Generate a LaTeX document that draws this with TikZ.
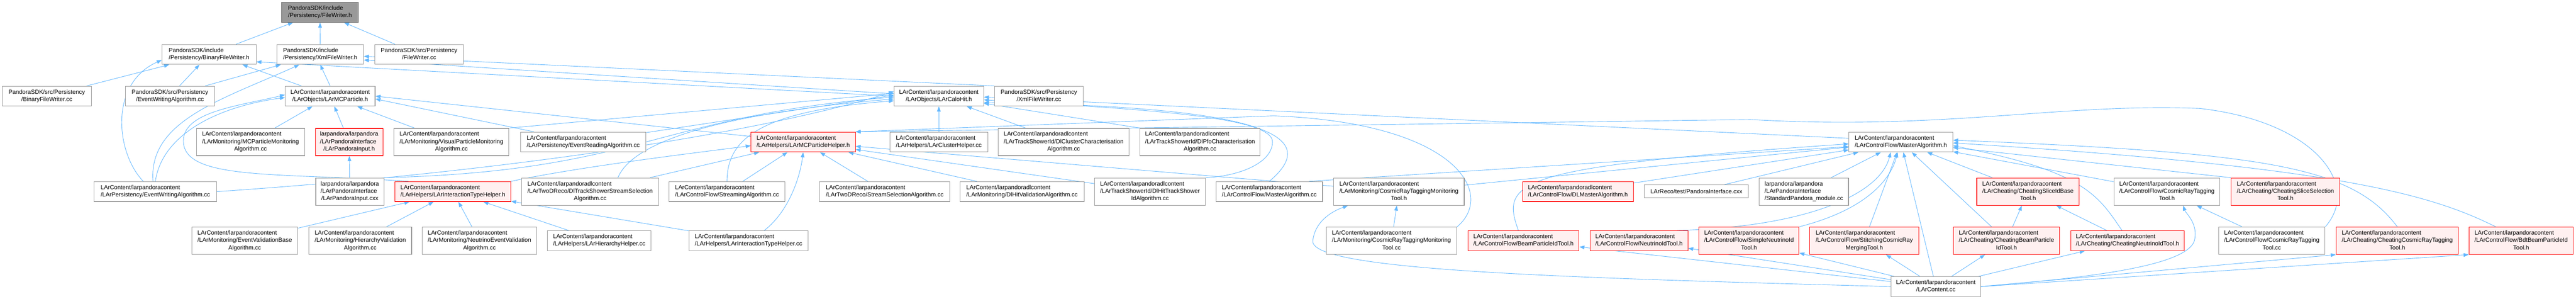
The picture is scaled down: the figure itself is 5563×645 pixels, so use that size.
\documentclass[tikz,border=0pt]{standalone}
\usepackage{fontspec}
\setmainfont{Liberation Sans}
\usetikzlibrary{arrows.meta,backgrounds}
\definecolor{edgec}{HTML}{63B8FF}
\definecolor{boxg}{HTML}{999999}
\definecolor{rootd}{HTML}{666666}
\definecolor{redb}{HTML}{FF0000}
\definecolor{redf}{HTML}{FFF0F0}
\newcommand{\Ltwo}[2]{\begin{tabular}{@{}l@{}}#1\\\multicolumn{1}{@{}c@{}}{#2}\end{tabular}}
\newcommand{\Lthree}[3]{\begin{tabular}{@{}l@{}}#1\\#2\\\multicolumn{1}{@{}c@{}}{#3}\end{tabular}}
\tikzset{
  box/.style={draw=boxg, fill=white, line width=1.2pt, inner sep=0pt,
    font=\fontsize{12.8}{16}\selectfont},
  redbox/.style={box, draw=redb, fill=redf},
  rootbox/.style={box, draw=rootd, fill=boxg},
  one/.style={minimum height=28pt},
  two/.style={minimum height=43pt},
  three/.style={minimum height=59pt},
  inc/.style={draw=edgec, line width=1pt, -{Triangle[length=11pt,width=8pt]}}
}
\begin{document}
\begin{tikzpicture}[x=1pt,y=-1pt]
\useasboundingbox (0,0) rectangle (5563,645);
% row 1
\node[rootbox,two,minimum width=166pt] (fw) at (691,26.5) {\Ltwo{PandoraSDK/include}{/Persistency/FileWriter.h}};
% row 2
\node[box,two,minimum width=203pt] (bfwh) at (451.5,117.5) {\Ltwo{PandoraSDK/include}{/Persistency/BinaryFileWriter.h}};
\node[box,two,minimum width=187pt] (xfwh) at (691.5,117.5) {\Ltwo{PandoraSDK/include}{/Persistency/XmlFileWriter.h}};
\node[box,two,minimum width=192pt] (fwcc) at (905,117.5) {\Ltwo{PandoraSDK/src/Persistency}{/FileWriter.cc}};
% row 3
\node[box,two,minimum width=192pt] (bfwcc) at (101,207.5) {\Ltwo{PandoraSDK/src/Persistency}{/BinaryFileWriter.cc}};
\node[box,two,minimum width=192pt] (sewa) at (367,207.5) {\Ltwo{PandoraSDK/src/Persistency}{/EventWritingAlgorithm.cc}};
\node[box,two,minimum width=194pt] (mcp) at (713,207.5) {\Ltwo{LArContent/larpandoracontent}{/LArObjects/LArMCParticle.h}};
\node[box,two,minimum width=193pt] (calo) at (2027.5,207.5) {\Ltwo{LArContent/larpandoracontent}{/LArObjects/LArCaloHit.h}};
\node[box,two,minimum width=191pt] (xfwcc) at (2243.5,207.5) {\Ltwo{PandoraSDK/src/Persistency}{/XmlFileWriter.cc}};
% row 4
\node[box,three,minimum width=234pt] (mcpm) at (541,306.5) {\Lthree{LArContent/larpandoracontent}{/LArMonitoring/MCParticleMonitoring}{Algorithm.cc}};
\node[redbox,three,minimum width=146pt] (lpih) at (754,306.5) {\Lthree{larpandora/larpandora}{/LArPandoraInterface}{/LArPandoraInput.h}};
\node[box,three,minimum width=248pt] (vpm) at (975,306.5) {\Lthree{LArContent/larpandoracontent}{/LArMonitoring/VisualParticleMonitoring}{Algorithm.cc}};
\node[box,two,minimum width=271pt] (era) at (1259.5,306.5) {\Ltwo{LArContent/larpandoracontent}{/LArPersistency/EventReadingAlgorithm.cc}};
\node[redbox,two,minimum width=225pt] (mcph) at (1734.5,306.5) {\Ltwo{LArContent/larpandoracontent}{/LArHelpers/LArMCParticleHelper.h}};
\node[box,two,minimum width=211pt] (clh) at (2027.5,306.5) {\Ltwo{LArContent/larpandoracontent}{/LArHelpers/LArClusterHelper.cc}};
\node[box,three,minimum width=282pt] (dlcc) at (2297,306.5) {\Lthree{LArContent/larpandoradlcontent}{/LArTrackShowerId/DlClusterCharacterisation}{Algorithm.cc}};
\node[box,three,minimum width=259pt] (dlpfo) at (2591.5,306.5) {\Lthree{LArContent/larpandoradlcontent}{/LArTrackShowerId/DlPfoCharacterisation}{Algorithm.cc}};
\node[box,two,minimum width=224pt] (mah) at (4105,306.5) {\Ltwo{LArContent/larpandoracontent}{/LArControlFlow/MasterAlgorithm.h}};
% row 5
\node[box,two,minimum width=265pt] (lewa) at (335.5,413.5) {\Ltwo{LArContent/larpandoracontent}{/LArPersistency/EventWritingAlgorithm.cc}};
\node[box,three,minimum width=147pt] (lpicxx) at (755.5,413.5) {\Lthree{larpandora/larpandora}{/LArPandoraInterface}{/LArPandoraInput.cxx}};
\node[redbox,two,minimum width=250pt] (lith) at (978,413.5) {\Ltwo{LArContent/larpandoracontent}{/LArHelpers/LArInteractionTypeHelper.h}};
\node[box,three,minimum width=295pt] (dltsss) at (1274.5,413.5) {\Lthree{LArContent/larpandoradlcontent}{/LArTwoDReco/DlTrackShowerStreamSelection}{Algorithm.cc}};
\node[box,two,minimum width=250pt] (stra) at (1570,413.5) {\Ltwo{LArContent/larpandoracontent}{/LArControlFlow/StreamingAlgorithm.cc}};
\node[box,two,minimum width=281pt] (ssa) at (1910.5,413.5) {\Ltwo{LArContent/larpandoracontent}{/LArTwoDReco/StreamSelectionAlgorithm.cc}};
\node[box,two,minimum width=268pt] (dlhv) at (2207,413.5) {\Ltwo{LArContent/larpandoradlcontent}{/LArMonitoring/DlHitValidationAlgorithm.cc}};
\node[box,three,minimum width=239pt] (dlhtsi) at (2483.5,413.5) {\Lthree{LArContent/larpandoradlcontent}{/LArTrackShowerId/DlHitTrackShower}{IdAlgorithm.cc}};
\node[box,two,minimum width=230pt] (macc) at (2741,413.5) {\Ltwo{LArContent/larpandoracontent}{/LArControlFlow/MasterAlgorithm.cc}};
\node[box,three,minimum width=282pt] (crtmth) at (3021,413.5) {\Lthree{LArContent/larpandoracontent}{/LArMonitoring/CosmicRayTaggingMonitoring}{Tool.h}};
\node[redbox,two,minimum width=239pt] (dlmah) at (3407.5,413.5) {\Ltwo{LArContent/larpandoradlcontent}{/LArControlFlow/DLMasterAlgorithm.h}};
\node[box,one,minimum width=225pt] (picxx) at (3663.5,413) {LArReco/test/PandoraInterface.cxx};
\node[box,three,minimum width=193pt] (spm) at (3895.5,413.5) {\Lthree{larpandora/larpandora}{/LArPandoraInterface}{/StandardPandora\_module.cc}};
\node[redbox,three,minimum width=221pt] (csibt) at (4379.5,413.5) {\Lthree{LArContent/larpandoracontent}{/LArCheating/CheatingSliceIdBase}{Tool.h}};
\node[box,three,minimum width=229pt] (crtth) at (4679.5,413.5) {\Lthree{LArContent/larpandoracontent}{/LArControlFlow/CosmicRayTagging}{Tool.h}};
\node[redbox,three,minimum width=235pt] (csst) at (4935.5,413.5) {\Lthree{LArContent/larpandoracontent}{/LArCheating/CheatingSliceSelection}{Tool.h}};
% row 6
\node[box,three,minimum width=229pt] (evb) at (528.5,519.5) {\Lthree{LArContent/larpandoracontent}{/LArMonitoring/EventValidationBase}{Algorithm.cc}};
\node[box,three,minimum width=222pt] (hv) at (778,519.5) {\Lthree{LArContent/larpandoracontent}{/LArMonitoring/HierarchyValidation}{Algorithm.cc}};
\node[box,three,minimum width=247pt] (nev) at (1035.5,519.5) {\Lthree{LArContent/larpandoracontent}{/LArMonitoring/NeutrinoEventValidation}{Algorithm.cc}};
\node[box,two,minimum width=224pt] (lhh) at (1294,519.5) {\Ltwo{LArContent/larpandoracontent}{/LArHelpers/LArHierarchyHelper.cc}};
\node[box,two,minimum width=257pt] (lithcc) at (1616.5,519.5) {\Ltwo{LArContent/larpandoracontent}{/LArHelpers/LArInteractionTypeHelper.cc}};
\node[box,three,minimum width=282pt] (crtmtcc) at (3005,519.5) {\Lthree{LArContent/larpandoracontent}{/LArMonitoring/CosmicRayTaggingMonitoring}{Tool.cc}};
\node[redbox,two,minimum width=240pt] (bpit) at (3290,519.5) {\Ltwo{LArContent/larpandoracontent}{/LArControlFlow/BeamParticleIdTool.h}};
\node[redbox,two,minimum width=211pt] (nit) at (3539.5,519.5) {\Ltwo{LArContent/larpandoracontent}{/LArControlFlow/NeutrinoIdTool.h}};
\node[redbox,three,minimum width=216pt] (snit) at (3777,519.5) {\Lthree{LArContent/larpandoracontent}{/LArControlFlow/SimpleNeutrinoId}{Tool.h}};
\node[redbox,three,minimum width=236pt] (scrmt) at (4026,519.5) {\Lthree{LArContent/larpandoracontent}{/LArControlFlow/StitchingCosmicRay}{MergingTool.h}};
\node[redbox,three,minimum width=230pt] (cbpit) at (4333,519.5) {\Lthree{LArContent/larpandoracontent}{/LArCheating/CheatingBeamParticle}{IdTool.h}};
\node[redbox,two,minimum width=245pt] (cnit) at (4594.5,519.5) {\Ltwo{LArContent/larpandoracontent}{/LArCheating/CheatingNeutrinoIdTool.h}};
\node[box,three,minimum width=230pt] (crttcc) at (4906,519.5) {\Lthree{LArContent/larpandoracontent}{/LArControlFlow/CosmicRayTagging}{Tool.cc}};
\node[redbox,three,minimum width=264pt] (ccrtt) at (5177,519.5) {\Lthree{LArContent/larpandoracontent}{/LArCheating/CheatingCosmicRayTagging}{Tool.h}};
\node[redbox,three,minimum width=225pt] (bdt) at (5444.5,519.5) {\Lthree{LArContent/larpandoracontent}{/LArControlFlow/BdtBeamParticleId}{Tool.h}};
% row 7
\node[box,two,minimum width=193pt] (lcc) at (4180.5,618.5) {\Ltwo{LArContent/larpandoracontent}{/LArContent.cc}};

\begin{pgfonlayer}{background}
\fill[white] (0,0) rectangle (5563,645);
% level 1
\draw[inc] (bfwh) -- (fw);
\draw[inc] (xfwh) -- (fw);
\draw[inc] (fwcc) -- (fw);
% into BinaryFileWriter.h / XmlFileWriter.h
\draw[inc] (bfwcc) -- (bfwh);
\draw[inc] (sewa) -- (bfwh);
\draw[inc] ([xshift=76pt]sewa.north) -- ([xshift=-85pt]xfwh.south);
\draw[inc] ([xshift=-26pt]lewa.north) .. controls (250,330) and (235,180) .. ([yshift=-12pt]bfwh.west);
\draw[inc] ([xshift=-5pt]lewa.north) .. controls (320,260) and (480,215) .. ([xshift=-45pt]xfwh.south);
\draw[inc] (lewa.north) .. controls (350,290) and (470,230) .. ([yshift=-3pt]mcp.west);
\draw[inc] (lewa.east) .. controls (1000,378) and (1600,300) .. ([yshift=10pt]calo.west);
\draw[inc] ([xshift=-62pt]mcp.north) -- ([xshift=72pt]bfwh.south);
\draw[inc] (mcp.north) -- (xfwh.south);
\draw[inc] (calo.west) -- ([yshift=-16pt]bfwh.east);
\draw[inc] ([yshift=5pt]calo.west) -- ([yshift=-12pt]xfwh.east);
\draw[inc] (xfwcc.north west) -- ([yshift=-4pt]xfwh.east);
% into LArMCParticle.h
\draw[inc] (mcpm) -- (mcp);
\draw[inc] (lpih) -- (mcp);
\draw[inc] (vpm) -- (mcp);
\draw[inc] (era) -- ([yshift=-6pt]mcp.east);
\draw[inc] (mcph) -- (mcp.east);
\draw[inc] ([xshift=30pt]lith.north west) .. controls (600,372) and (396,390) .. (396,304) .. controls (396,240) and (520,228) .. ([yshift=3pt]mcp.west);
% into LArCaloHit.h
\draw[inc] (vpm.north east) -- ([yshift=6pt]calo.west);
\draw[inc] (era) -- ([yshift=2pt]calo.west);
\draw[inc] (lpicxx.north east) .. controls (1380,370) and (1420,250) .. ([yshift=-2pt]calo.west);
\draw[inc] ([xshift=60pt]dltsss.north) .. controls (1360,320) and (1500,250) .. ([yshift=-6pt]calo.west);
\draw[inc] (stra.north) .. controls (1570,300) and (1640,240) .. ([yshift=-10pt]calo.west);
\draw[inc] (clh) -- (calo);
\draw[inc] (dlcc) -- (calo);
\draw[inc] (dlpfo.north west) -- (calo);
\draw[inc] (dlhtsi.north east) .. controls (2680,380) and (2748,350) .. (2748,306) .. controls (2748,250) and (2450,235) .. ([yshift=-8pt]calo.east);
\draw[inc] (macc.north) .. controls (2850,300) and (2760,230) .. ([yshift=-14pt]calo.east);
\draw[inc] ([yshift=8pt]mah.west) -- ([yshift=-2pt]calo.east);
% LArPandoraInput
\draw[inc] (lpicxx) -- (lpih);
% into LArMCParticleHelper.h
\draw[inc] (lith.north east) .. controls (1250,360) and (1500,330) .. ([yshift=-8pt]mcph.west);
\draw[inc] ([xshift=34pt]lithcc.north) .. controls (1705,455) and (1728,380) .. (mcph.south);
\draw[inc] (dltsss) -- (mcph);
\draw[inc] (stra) -- (mcph);
\draw[inc] (ssa) -- (mcph);
\draw[inc] (dlhv) -- (mcph);
\draw[inc] (dlhtsi) -- (mcph);
\draw[inc] (crtmth) -- (mcph);
\draw[inc] (crtmtcc.north east) .. controls (3230,420) and (3150,265) .. (2750,250) -- (mcph.north east);
\draw[inc] (crttcc.north east) .. controls (5100,400) and (5000,262) .. (4750,234) .. controls (4450,222) and (4200,282) .. (3780,258) -- (mcph.north east);
% into LArInteractionTypeHelper.h
\draw[inc] (evb) -- (lith);
\draw[inc] (hv) -- (lith);
\draw[inc] (nev) -- (lith);
\draw[inc] (lhh) -- (lith);
\draw[inc] (lithcc) -- (lith);
% into MasterAlgorithm.h
\draw[inc] ([xshift=-30pt]macc.north east) -- ([yshift=-10pt]mah.west);
\draw[inc] (crtmth) -- (mah);
\draw[inc] (crtmtcc) -- (crtmth);
\draw[inc] (dlmah) -- (mah);
\draw[inc] (picxx) -- (mah);
\draw[inc] (spm) -- (mah);
\draw[inc] ([xshift=-11pt]bpit.north) .. controls (3240,390) and (3270,360) .. ([yshift=-4pt]mah.west);
\draw[inc] ([xshift=82pt]nit.north) .. controls (3900,490) and (4060,420) .. ([xshift=-22pt]mah.south);
\draw[inc] (snit.north east) .. controls (4040,450) and (4085,380) .. ([xshift=-7pt]mah.south);
\draw[inc] (scrmt) -- (mah);
\draw[inc] (cbpit) -- (mah);
\draw[inc] (csibt) -- (mah);
\draw[inc] (cbpit) -- (csibt);
\draw[inc] (cnit) -- (csibt);
\draw[inc] ([xshift=-12pt]cnit.north) .. controls (4530,420) and (4500,370) .. ([yshift=-8pt]mah.east);
\draw[inc] (crtth) -- (mah);
\draw[inc] (crttcc) -- (crtth);
\draw[inc] (csst.north west) -- (mah);
\draw[inc] (ccrtt.north) .. controls (5080,360) and (4900,330) .. ([yshift=4pt]mah.east);
\draw[inc] ([xshift=-55pt]bdt.north) .. controls (5250,420) and (5050,360) .. ([yshift=-2pt]mah.east);
% LArContent.cc
\draw[inc] (lcc) -- (mah);
\draw[inc] (lcc) -- (bpit);
\draw[inc] (lcc) -- (nit);
\draw[inc] (lcc) -- (snit);
\draw[inc] (lcc) -- (scrmt);
\draw[inc] (lcc) -- (cbpit);
\draw[inc] (lcc) -- (cnit);
\draw[inc] (lcc.east) -- (ccrtt.south west);
\draw[inc] (lcc.east) -- (bdt.south west);
\draw[inc] (lcc.east) .. controls (4500,600) and (4735,575) .. (4740,514) .. controls (4745,480) and (4720,460) .. ([xshift=35pt]crtth.south);
\draw[inc] (lcc.west) .. controls (3400,600) and (2830,585) .. (2835,520) .. controls (2840,475) and (2880,455) .. ([xshift=-110pt]crtmth.south);
\end{pgfonlayer}
\end{tikzpicture}
\end{document}
